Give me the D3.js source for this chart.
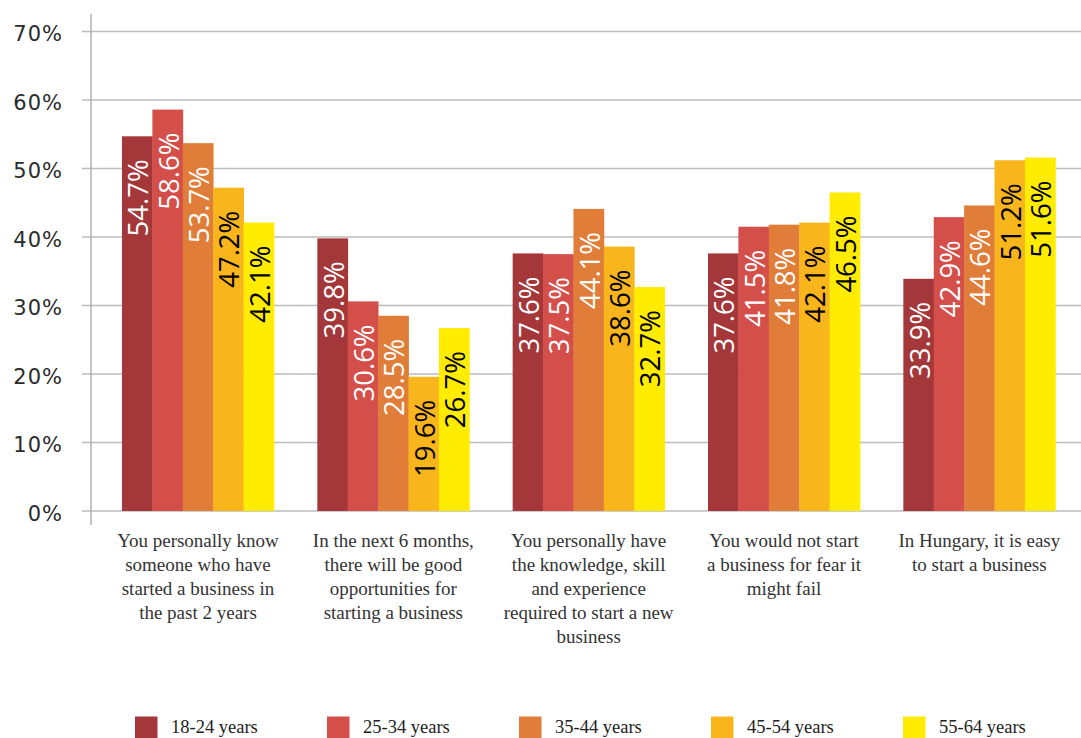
<!DOCTYPE html>
<html><head><meta charset="utf-8">
<script src="https://cdnjs.cloudflare.com/ajax/libs/d3/7.8.5/d3.min.js"></script>
<style>body{margin:0;background:#fff}svg{display:block}</style>
</head><body>
<svg id="chart" width="1081" height="738"></svg>
<script>
const categories = [
  ["You personally know","someone who have","started a business in","the past 2 years"],
  ["In the next 6 months,","there will be good","opportunities for","starting a business"],
  ["You personally have","the knowledge, skill","and experience","required to start a new","business"],
  ["You would not start","a business for fear it","might fail"],
  ["In Hungary, it is easy","to start a business"]
];
const seriesNames = ["18-24 years","25-34 years","35-44 years","45-54 years","55-64 years"];
const s1824 = [54.7, 39.8, 37.6, 37.6, 33.9];
const s2534 = [58.6, 30.6, 37.5, 41.5, 42.9];
const s3544 = [53.7, 28.5, 44.1, 41.8, 44.6];
const s4554 = [47.2, 19.6, 38.6, 42.1, 51.2];
const s5564 = [42.1, 26.7, 32.7, 46.5, 51.6];
const yTicks = [0,10,20,30,40,50,60,70];
const colors = ["#A3373A","#D44E4A","#E07D38","#F9B51C","#FFEC00"];
const labelColors = ["#fff","#fff","#fff","#000","#000"];

const series = [s1824,s2534,s3544,s4554,s5564];
const svg = d3.select("#chart");

const y = d3.scaleLinear().domain([0,70]).range([511,31.5]);
const x0 = d3.scaleBand().domain(d3.range(categories.length)).range([100.3,1077]).paddingInner(0.222).paddingOuter(0.111);
const x1 = d3.scaleBand().domain(d3.range(seriesNames.length)).range([0,x0.bandwidth()]);

// gridlines
svg.append("g").selectAll("line").data(yTicks).join("line")
  .attr("x1",82).attr("x2",1081)
  .attr("y1",d=>y(d)).attr("y2",d=>y(d))
  .attr("stroke","#bdbdbd").attr("stroke-width",1.5);
// vertical axis line
svg.append("line").attr("x1",91).attr("x2",91).attr("y1",14).attr("y2",525)
  .attr("stroke","#b0b0b0").attr("stroke-width",1.5);

// y tick labels
svg.append("g").selectAll("text").data(yTicks).join("text")
  .attr("x",63).attr("y",d=>y(d)+9.5)
  .attr("text-anchor","end")
  .attr("font-family","'DejaVu Sans', sans-serif")
  .attr("font-size",21).attr("letter-spacing",1).attr("fill","#2b2b2b")
  .text(d=>d+"%");

// bars
const groups = svg.append("g").selectAll("g").data(categories).join("g")
  .attr("transform",(d,i)=>`translate(${x0(i)},0)`);
groups.each(function(cat,ci){
  const g = d3.select(this);
  series.forEach((s,si)=>{
    const v = s[ci];
    g.append("rect")
      .attr("x",x1(si)).attr("width",x1.bandwidth()+0.4)
      .attr("y",y(v)).attr("height",y(0)-y(v))
      .attr("fill",colors[si]);
    const cx = x1(si)+x1.bandwidth()/2+11;
    const ty = y(v)+23;
    g.append("text")
      .attr("transform",`translate(${cx},${ty}) rotate(-90)`)
      .attr("text-anchor","end")
      .attr("font-family","'Open Sans', sans-serif")
      .attr("font-size",27.5)
      .attr("fill",labelColors[si])
      .text(v.toFixed(1)+"%");
  });
});

// x labels
const xl = svg.append("g").selectAll("text").data(categories).join("text")
  .attr("x",(d,i)=>x0(i)+x0.bandwidth()/2)
  .attr("y",547)
  .attr("text-anchor","middle")
  .attr("font-family","'Liberation Serif', serif")
  .attr("font-size",19).attr("fill","#333");
xl.each(function(lines){
  const t = d3.select(this);
  lines.forEach((l,li)=>{
    t.append("tspan").attr("x",t.attr("x")).attr("dy",li===0?0:24).text(l);
  });
});

// legend
const lg = svg.append("g").selectAll("g").data(seriesNames).join("g")
  .attr("transform",(d,i)=>`translate(${135+i*192},0)`);
lg.append("rect").attr("x",0).attr("y",716.5).attr("width",22.5).attr("height",21.5)
  .attr("fill",(d,i)=>colors[i]);
lg.append("text").attr("x",36).attr("y",732.5)
  .attr("font-family","'Liberation Serif', serif")
  .attr("font-size",18.5).attr("fill","#222")
  .text(d=>d);
</script>
</body></html>
